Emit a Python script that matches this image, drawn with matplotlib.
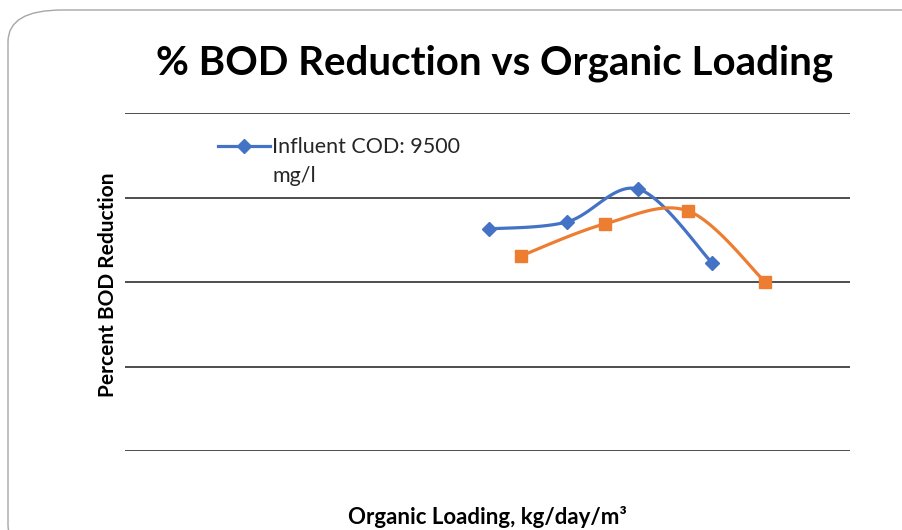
import matplotlib.pyplot as plt
import numpy as np
from matplotlib.patches import FancyBboxPatch

# (axis 0..10 in x, 0..100 in y; no tick labels shown)
blue_x = [5.02, 6.10, 7.08, 8.10]
blue_y = [65.7, 67.8, 77.5, 55.6]
orange_x = [5.46, 6.62, 7.77, 8.83]
orange_y = [57.7, 67.2, 71.0, 50.0]
grid_y = [0, 25, 50, 75, 100]

BLUE = '#4472C4'
ORANGE = '#ED7D31'


def smooth(xs, ys, n=40):
    # Excel-like smoothed line: cubic Bezier with Catmull-Rom control points
    p = np.column_stack([xs, ys])
    out = [p[0]]
    for i in range(len(p) - 1):
        p0 = p[i - 1] if i > 0 else p[i]
        p1, p2 = p[i], p[i + 1]
        p3 = p[i + 2] if i + 2 < len(p) else p[i + 1]
        c1 = p1 + (p2 - p0) / 6
        c2 = p2 - (p3 - p1) / 6
        t = np.linspace(0, 1, n)[1:, None]
        seg = (1 - t) ** 3 * p1 + 3 * (1 - t) ** 2 * t * c1 + 3 * (1 - t) * t ** 2 * c2 + t ** 3 * p2
        out.extend(seg)
    out = np.array(out)
    return out[:, 0], out[:, 1]


plt.rcParams['font.family'] = ['Lato', 'DejaVu Sans']
fig = plt.figure(figsize=(9.02, 5.30), dpi=100)

# rounded frame around the chart
frame = FancyBboxPatch((8 / 902, -0.05), 1.1, 1 - 10 / 530 + 0.05,
                       boxstyle='round,pad=0,rounding_size=0.06',
                       transform=fig.transFigure, fill=False,
                       edgecolor='#a6a6a6', linewidth=1.0)
fig.patches.append(frame)

ax = fig.add_axes([125 / 902, 1 - 451 / 530, 725 / 902, 338 / 530])
ax.set_xlim(0, 10)
ax.set_ylim(0, 100)
for s in ax.spines.values():
    s.set_visible(False)
ax.set_xticks([])
ax.set_yticks([])
for g in grid_y:
    ax.axhline(g, color='#3f3f3f', linewidth=1.3, zorder=1)

bx, by = smooth(blue_x, blue_y)
ox, oy = smooth(orange_x, orange_y)
ax.plot(bx, by, color=BLUE, linewidth=2.3, zorder=3, solid_capstyle='round')
ax.plot(blue_x, blue_y, linestyle='none', marker='D', markersize=7.5,
        color=BLUE, zorder=4)
ax.plot(ox, oy, color=ORANGE, linewidth=2.3, zorder=3, solid_capstyle='round')
ax.plot(orange_x, orange_y, linestyle='none', marker='s', markersize=9,
        color=ORANGE, zorder=4)

# legend (only the blue series is listed), built by hand so the sample
# sits on the first line of the wrapped label
ax.plot([0.128, 0.2], [0.902, 0.902], color=BLUE, linewidth=2.3,
        transform=ax.transAxes, clip_on=False)
ax.plot([0.164], [0.902], marker='D', markersize=7.5, color=BLUE,
        transform=ax.transAxes, clip_on=False)
ax.text(0.203, 0.930, 'Influent COD: 9500\nmg/l', transform=ax.transAxes,
        ha='left', va='top', fontsize=15.5, linespacing=1.6,
        color='#262626')

fig.text(495 / 902, 1 - 63 / 530, '% BOD Reduction vs Organic Loading',
         ha='center', va='center', fontsize=29, fontweight='bold')
fig.text(108 / 902, 1 - 285 / 530, 'Percent BOD Reduction', rotation=90,
         ha='center', va='center', fontsize=15, fontweight='bold')
fig.text(487 / 902, 1 - 517 / 530, 'Organic Loading, kg/day/m³',
         ha='center', va='center', fontsize=16, fontweight='bold')

fig.savefig('out.png', dpi=100)
